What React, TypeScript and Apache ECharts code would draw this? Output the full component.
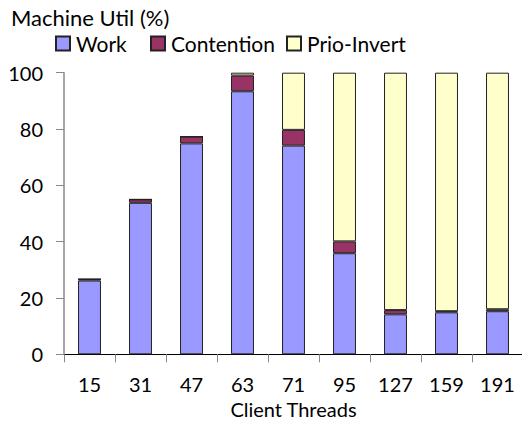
import React, { useEffect, useRef } from "react";
import * as echarts from "echarts";

const categories = ["15", "31", "47", "63", "71", "95", "127", "159", "191"];
const work = [26.2, 53.8, 74.9, 93.4, 74.1, 35.9, 14.2, 14.9, 15.3];
const contention = [0.5, 1.2, 2.4, 5.6, 5.6, 4.2, 1.5, 0.4, 0.7];
const prioInvert = [0, 0, 0, 1.0, 20.3, 59.9, 84.3, 84.7, 84.0];
const seriesNames = ["Work", "Contention", "Prio-Invert"];
const yTicks = [0, 20, 40, 60, 80, 100];

const FONT = "Lato, 'Open Sans', sans-serif";
const legendLefts = [55, 150, 286];

export default function App() {
  const ref = useRef<HTMLDivElement>(null);
  useEffect(() => {
    if (!ref.current) return;
    const chart = echarts.init(ref.current, undefined, { renderer: "svg" });
    const barStyle = (color: string) => ({
      color,
      borderColor: "#222",
      borderWidth: 1,
    });
    chart.setOption({
      animation: false,
      textStyle: { fontFamily: FONT },
      title: {
        text: "Machine Util (%)",
        left: 6,
        top: 1,
        textStyle: { fontFamily: FONT, fontSize: 22, fontWeight: "normal", color: "#000" },
      },
      legend: seriesNames.map((n, i) => ({
        left: legendLefts[i],
        top: 33,
        padding: 0,
        itemWidth: 14,
        itemHeight: 14,
        itemGap: 6,
        icon: "rect",
        textStyle: { fontFamily: FONT, fontSize: 21, color: "#000", padding: [0, 0, 0, 1] },
        data: [n],
      })),
      grid: { left: 64, right: -1, top: 72.7, bottom: 66.7, containLabel: false, outerBoundsMode: "none" },
      xAxis: {
        type: "category",
        data: categories,
        name: "Client Threads",
        nameLocation: "middle",
        nameGap: 42,
        nameTextStyle: { fontFamily: FONT, fontSize: 20, color: "#000" },
        axisLine: { lineStyle: { color: "#000", width: 1 } },
        axisTick: { show: true, length: 8, lineStyle: { color: "#888" } },
        axisLabel: { fontFamily: FONT, fontSize: 20, color: "#000", margin: 20 },
      },
      yAxis: {
        type: "value",
        min: 0,
        max: 100,
        interval: 20,
        axisLine: { show: true, lineStyle: { color: "#888", width: 1.5 } },
        axisTick: { show: true, length: 8, lineStyle: { color: "#888" } },
        splitLine: { show: false },
        axisLabel: {
          fontFamily: FONT,
          fontSize: 20,
          color: "#000",
          margin: 21,
          formatter: (v: number) => (yTicks.includes(v) ? String(v) : ""),
        },
      },
      series: [
        { name: seriesNames[0], type: "bar", stack: "s", barWidth: "45%", data: work, itemStyle: barStyle("#9999FF") },
        { name: seriesNames[1], type: "bar", stack: "s", barWidth: "45%", data: contention, itemStyle: barStyle("#993366") },
        { name: seriesNames[2], type: "bar", stack: "s", barWidth: "45%", data: prioInvert, itemStyle: barStyle("#FFFFCC") },
      ],
    });
    return () => chart.dispose();
  }, []);
  return <div ref={ref} style={{ width: 522, height: 421, position: "absolute", left: 0, top: 0 }} />;
}
